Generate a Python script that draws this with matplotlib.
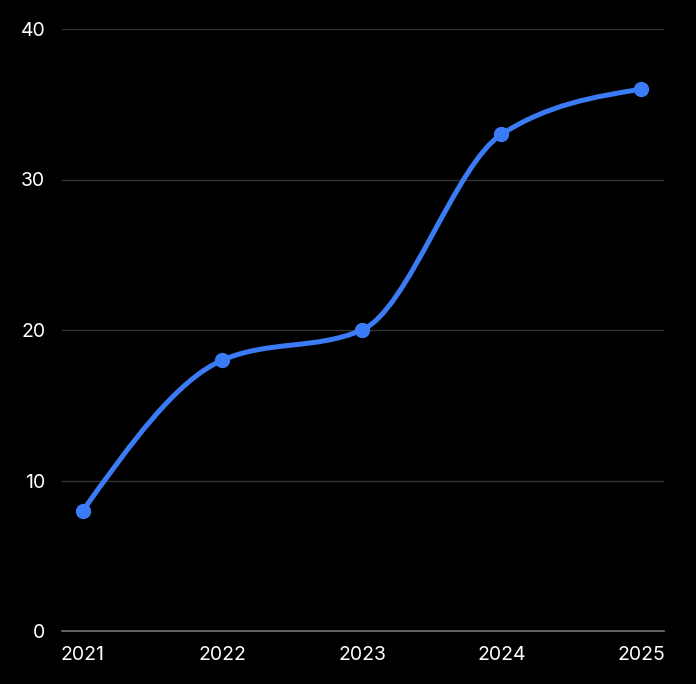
import numpy as np
import matplotlib.pyplot as plt
from matplotlib.path import Path
from matplotlib.patches import PathPatch

years = ['2021', '2022', '2023', '2024', '2025']
values = [8, 18, 20, 33, 36]
y_ticks = [0, 10, 20, 30, 40]

blue = '#3b7cf6'

def monotone_path(x, y):
    # same idea as d3 curveMonotoneX: cubic bezier segments, monotone slopes
    x = np.asarray(x, float)
    y = np.asarray(y, float)
    n = len(x)
    h = np.diff(x)
    s = np.diff(y) / h
    t = np.zeros(n)
    for i in range(1, n - 1):
        p = (s[i - 1] * h[i] + s[i] * h[i - 1]) / (h[i - 1] + h[i])
        t[i] = (np.sign(s[i - 1]) + np.sign(s[i])) * min(abs(s[i - 1]), abs(s[i]), 0.5 * abs(p))
    t[0] = (3 * s[0] - t[1]) / 2
    t[-1] = (3 * s[-1] - t[-2]) / 2
    verts = [(x[0], y[0])]
    codes = [Path.MOVETO]
    for i in range(n - 1):
        dx = h[i] / 3
        verts += [(x[i] + dx, y[i] + dx * t[i]), (x[i + 1] - dx, y[i + 1] - dx * t[i + 1]), (x[i + 1], y[i + 1])]
        codes += [Path.CURVE4] * 3
    return Path(verts, codes)

plt.rcParams['font.family'] = ['Inter', 'DejaVu Sans']

fig = plt.figure(figsize=(6.96, 6.84), dpi=100, facecolor='black')
ax = fig.add_axes([62 / 696, 1 - 631 / 684, 602 / 696, 602 / 684])
ax.set_facecolor('black')

xs = np.arange(len(years))
ax.add_patch(PathPatch(monotone_path(xs, values), fill=False, edgecolor=blue, lw=3.6, capstyle='round', zorder=3))
ax.plot(xs, values, 'o', color=blue, ms=10, zorder=4)

ax.set_xlim(-0.15, 4.165)
ax.set_ylim(0, 40)
for v in y_ticks[1:]:
    ax.axhline(v, color='#333333', lw=1, zorder=1)
ax.axhline(0, color='#777777', lw=1.2, zorder=1, clip_on=False)

ax.set_xticks(xs)
ax.set_xticklabels(years)
ax.set_yticks(y_ticks)
ax.tick_params(colors='white', labelsize=14, length=0)
ax.tick_params(axis='y', pad=12)
ax.tick_params(axis='x', pad=11)
for sp in ax.spines.values():
    sp.set_visible(False)

fig.savefig('out.png', dpi=100, facecolor='black')
